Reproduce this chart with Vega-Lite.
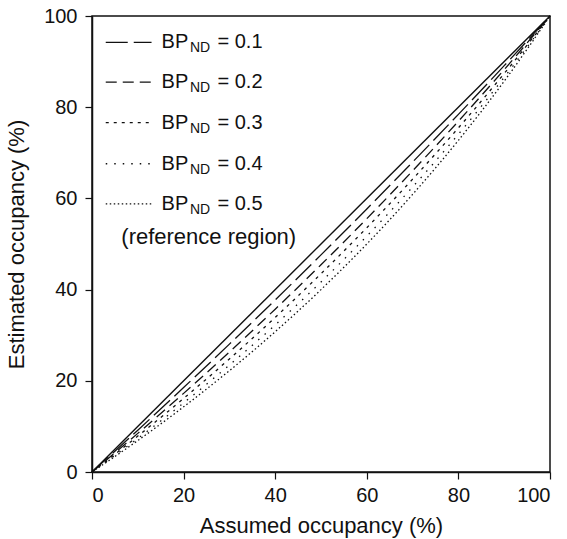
{
  "$schema": "https://vega.github.io/schema/vega-lite/v6.json",
  "autosize": "none",
  "width": 458,
  "height": 456,
  "padding": {"left": 92, "top": 16, "right": 17, "bottom": 67},
  "background": "white",
  "config": {
    "font": "Liberation Sans",
    "view": {"stroke": "#111", "strokeWidth": 1.5},
    "axis": {
      "grid": false,
      "domainColor": "#111",
      "domainWidth": 1.5,
      "tickColor": "#111",
      "tickSize": 7,
      "tickWidth": 1.2,
      "labelFont": "Liberation Sans",
      "labelFontSize": 20,
      "labelColor": "#111",
      "titleFont": "Liberation Sans",
      "titleFontSize": 22,
      "titleFontWeight": "normal",
      "titleColor": "#111"
    }
  },
  "datasets": {
    "identity": [{"x": 0, "y": 0}, {"x": 100, "y": 100}],
    "curves": [
      {"bp": "0.1", "x": 0, "y": 0}, {"bp": "0.1", "x": 10, "y": 9.17}, {"bp": "0.1", "x": 20, "y": 18.52}, {"bp": "0.1", "x": 30, "y": 28.04}, {"bp": "0.1", "x": 40, "y": 37.74}, {"bp": "0.1", "x": 50, "y": 47.62}, {"bp": "0.1", "x": 60, "y": 57.69}, {"bp": "0.1", "x": 70, "y": 67.96}, {"bp": "0.1", "x": 80, "y": 78.43}, {"bp": "0.1", "x": 90, "y": 89.11}, {"bp": "0.1", "x": 100, "y": 100},
      {"bp": "0.2", "x": 0, "y": 0}, {"bp": "0.2", "x": 10, "y": 8.47}, {"bp": "0.2", "x": 20, "y": 17.24}, {"bp": "0.2", "x": 30, "y": 26.32}, {"bp": "0.2", "x": 40, "y": 35.71}, {"bp": "0.2", "x": 50, "y": 45.45}, {"bp": "0.2", "x": 60, "y": 55.56}, {"bp": "0.2", "x": 70, "y": 66.04}, {"bp": "0.2", "x": 80, "y": 76.92}, {"bp": "0.2", "x": 90, "y": 88.24}, {"bp": "0.2", "x": 100, "y": 100},
      {"bp": "0.3", "x": 0, "y": 0}, {"bp": "0.3", "x": 10, "y": 7.87}, {"bp": "0.3", "x": 20, "y": 16.13}, {"bp": "0.3", "x": 30, "y": 24.79}, {"bp": "0.3", "x": 40, "y": 33.9}, {"bp": "0.3", "x": 50, "y": 43.48}, {"bp": "0.3", "x": 60, "y": 53.57}, {"bp": "0.3", "x": 70, "y": 64.22}, {"bp": "0.3", "x": 80, "y": 75.47}, {"bp": "0.3", "x": 90, "y": 87.38}, {"bp": "0.3", "x": 100, "y": 100},
      {"bp": "0.4", "x": 0, "y": 0}, {"bp": "0.4", "x": 10, "y": 7.35}, {"bp": "0.4", "x": 20, "y": 15.15}, {"bp": "0.4", "x": 30, "y": 23.44}, {"bp": "0.4", "x": 40, "y": 32.26}, {"bp": "0.4", "x": 50, "y": 41.67}, {"bp": "0.4", "x": 60, "y": 51.72}, {"bp": "0.4", "x": 70, "y": 62.5}, {"bp": "0.4", "x": 80, "y": 74.07}, {"bp": "0.4", "x": 90, "y": 86.54}, {"bp": "0.4", "x": 100, "y": 100},
      {"bp": "0.5", "x": 0, "y": 0}, {"bp": "0.5", "x": 10, "y": 6.9}, {"bp": "0.5", "x": 20, "y": 14.29}, {"bp": "0.5", "x": 30, "y": 22.22}, {"bp": "0.5", "x": 40, "y": 30.77}, {"bp": "0.5", "x": 50, "y": 40.0}, {"bp": "0.5", "x": 60, "y": 50.0}, {"bp": "0.5", "x": 70, "y": 60.87}, {"bp": "0.5", "x": 80, "y": 72.73}, {"bp": "0.5", "x": 90, "y": 85.71}, {"bp": "0.5", "x": 100, "y": 100}
    ],
    "legend": [
      {"bp": "0.1", "ly": 94.2, "label": "= 0.1"},
      {"bp": "0.2", "ly": 85.5, "label": "= 0.2"},
      {"bp": "0.3", "ly": 76.6, "label": "= 0.3"},
      {"bp": "0.4", "ly": 67.6, "label": "= 0.4"},
      {"bp": "0.5", "ly": 58.8, "label": "= 0.5"}
    ]
  },
  "encoding": {
    "x": {"type": "quantitative", "scale": {"domain": [0, 100], "nice": false}, "axis": {"values": [0, 20, 40, 60, 80, 100], "labelPadding": 6, "titlePadding": 10, "title": "Assumed occupancy (%)"}},
    "y": {"type": "quantitative", "scale": {"domain": [0, 100], "nice": false}, "axis": {"values": [0, 20, 40, 60, 80, 100], "labelPadding": 8, "titlePadding": 15, "title": "Estimated occupancy (%)"}}
  },
  "layer": [
    {
      "data": {"name": "identity"},
      "mark": {"type": "line", "color": "#111", "strokeWidth": 1.4},
      "encoding": {"x": {"field": "x", "type": "quantitative"}, "y": {"field": "y", "type": "quantitative"}}
    },
    {
      "data": {"name": "curves"},
      "mark": {"type": "line", "color": "#111", "strokeWidth": 1.3, "interpolate": "monotone"},
      "encoding": {
        "x": {"field": "x", "type": "quantitative"},
        "y": {"field": "y", "type": "quantitative"},
        "strokeDash": {"field": "bp", "type": "nominal", "legend": null,
          "scale": {"domain": ["0.1", "0.2", "0.3", "0.4", "0.5"], "range": [[22, 6], [11, 6], [3, 5], [1.5, 7], [1.5, 2.5]]}}
      }
    },
    {
      "data": {"name": "legend"},
      "mark": {"type": "rule", "color": "#111", "strokeWidth": 1.3},
      "encoding": {
        "x": {"datum": 3},
        "x2": {"datum": 13},
        "y": {"field": "ly", "type": "quantitative"},
        "strokeDash": {"field": "bp", "type": "nominal", "legend": null}
      }
    },
    {
      "data": {"name": "legend"},
      "mark": {"type": "text", "align": "left", "baseline": "middle", "fontSize": 20, "color": "#111", "text": "BP"},
      "encoding": {"x": {"datum": 15.2}, "y": {"field": "ly", "type": "quantitative"}}
    },
    {
      "data": {"name": "legend"},
      "mark": {"type": "text", "align": "left", "baseline": "middle", "fontSize": 14, "dy": 6, "color": "#111", "text": "ND"},
      "encoding": {"x": {"datum": 21.4}, "y": {"field": "ly", "type": "quantitative"}}
    },
    {
      "data": {"name": "legend"},
      "mark": {"type": "text", "align": "left", "baseline": "middle", "fontSize": 20, "color": "#111"},
      "encoding": {"x": {"datum": 27.4}, "y": {"field": "ly", "type": "quantitative"}, "text": {"field": "label"}}
    },
    {
      "data": {"values": [{"t": "(reference region)"}]},
      "mark": {"type": "text", "align": "left", "baseline": "middle", "fontSize": 22, "color": "#111"},
      "encoding": {"x": {"datum": 6.4}, "y": {"datum": 51.6}, "text": {"field": "t"}}
    }
  ]
}
